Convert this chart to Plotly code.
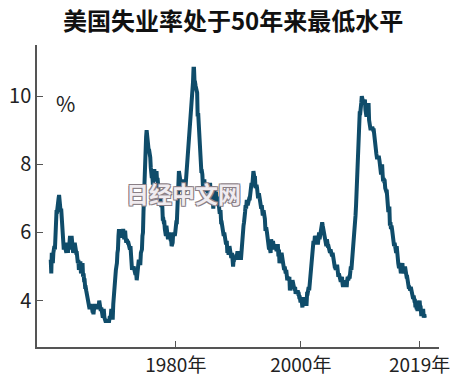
import plotly.graph_objects as go

# US unemployment rate, monthly (%), Jan 1960 onward
rate_1960s = [5.2,4.8,5.4,5.2,5.1,5.4,5.5,5.6,5.5,6.1,6.1,6.6,
              6.6,6.9,6.9,7.0,7.1,6.9,7.0,6.6,6.7,6.5,6.1,6.0,
              5.8,5.5,5.6,5.6,5.5,5.5,5.4,5.7,5.6,5.4,5.7,5.5,
              5.7,5.9,5.7,5.7,5.9,5.6,5.6,5.4,5.5,5.5,5.7,5.5,
              5.6,5.4,5.4,5.3,5.1,5.2,4.9,5.0,5.1,5.1,4.8,5.0,
              4.9,5.1,4.7,4.8,4.6,4.6,4.4,4.4,4.3,4.2,4.1,4.0,
              4.0,3.8,3.8,3.8,3.9,3.8,3.8,3.8,3.7,3.7,3.6,3.8,
              3.9,3.8,3.8,3.8,3.8,3.9,3.8,3.8,3.8,4.0,3.9,3.8,
              3.7,3.8,3.7,3.5,3.5,3.7,3.7,3.5,3.4,3.4,3.4,3.4,
              3.4,3.4,3.4,3.4,3.4,3.5,3.5,3.5,3.7,3.7,3.5,3.5]
rate_1970s = [3.9,4.2,4.4,4.6,4.8,4.9,5.0,5.1,5.4,5.5,5.9,6.1,
              5.9,5.9,6.0,5.9,5.9,5.9,6.0,6.1,6.0,5.8,6.0,6.0,
              5.8,5.7,5.8,5.7,5.7,5.7,5.6,5.6,5.5,5.6,5.3,5.2,
              4.9,5.0,4.9,5.0,4.9,4.9,4.8,4.8,4.8,4.6,4.8,4.9,
              5.1,5.2,5.1,5.1,5.1,5.4,5.5,5.5,5.9,6.0,6.6,7.2,
              8.1,8.1,8.6,8.8,9.0,8.8,8.6,8.4,8.4,8.4,8.3,8.2,
              7.9,7.7,7.6,7.7,7.4,7.6,7.8,7.8,7.6,7.7,7.8,7.8,
              7.5,7.6,7.4,7.2,7.0,7.2,6.9,7.0,6.8,6.8,6.8,6.4,
              6.4,6.3,6.3,6.1,6.0,5.9,6.2,5.9,6.0,5.8,5.9,6.0,
              5.9,5.9,5.8,5.8,5.6,5.7,5.7,6.0,5.9,6.0,5.9,6.0]
rate_1980s = [6.3,6.3,6.3,6.9,7.5,7.6,7.8,7.7,7.5,7.5,7.5,7.2,
              7.5,7.4,7.4,7.2,7.5,7.5,7.2,7.4,7.6,7.9,8.3,8.5,
              8.6,8.9,9.0,9.3,9.4,9.6,9.8,9.8,10.1,10.4,10.8,10.8,
              10.4,10.4,10.3,10.2,10.1,10.1,9.4,9.5,9.2,8.8,8.5,8.3,
              8.0,7.8,7.8,7.7,7.4,7.2,7.5,7.5,7.3,7.4,7.2,7.3,
              7.3,7.2,7.2,7.3,7.2,7.4,7.4,7.1,7.1,7.1,7.0,7.0,
              6.7,7.2,7.2,7.1,7.2,7.2,7.0,6.9,7.0,7.0,6.9,6.6,
              6.6,6.6,6.6,6.3,6.3,6.2,6.1,6.0,5.9,6.0,5.8,5.7,
              5.7,5.7,5.7,5.4,5.6,5.4,5.4,5.6,5.4,5.4,5.3,5.3,
              5.4,5.2,5.0,5.2,5.2,5.3,5.2,5.2,5.3,5.3,5.4,5.4]
rate_1990s = [5.4,5.3,5.2,5.4,5.4,5.2,5.5,5.7,5.9,5.9,6.2,6.3,
              6.4,6.6,6.8,6.7,6.9,6.9,6.8,6.9,6.9,7.0,7.0,7.3,
              7.3,7.4,7.4,7.4,7.6,7.8,7.7,7.6,7.6,7.3,7.4,7.4,
              7.3,7.1,7.0,7.1,7.1,7.0,6.9,6.8,6.7,6.8,6.6,6.5,
              6.6,6.6,6.5,6.4,6.1,6.1,6.1,6.0,5.9,5.8,5.6,5.5,
              5.6,5.4,5.4,5.8,5.6,5.6,5.7,5.7,5.6,5.5,5.6,5.6,
              5.6,5.5,5.5,5.6,5.6,5.3,5.5,5.1,5.2,5.2,5.4,5.4,
              5.3,5.2,5.2,5.1,4.9,5.0,4.9,4.8,4.9,4.7,4.6,4.7,
              4.6,4.6,4.7,4.3,4.4,4.5,4.5,4.5,4.6,4.5,4.4,4.4,
              4.3,4.4,4.2,4.3,4.2,4.3,4.3,4.2,4.2,4.1,4.1,4.0]
rate_2000s = [4.0,4.1,4.0,3.8,4.0,4.0,4.0,4.1,3.9,3.9,3.9,3.9,
              4.2,4.2,4.3,4.4,4.3,4.5,4.6,4.9,5.0,5.3,5.5,5.7,
              5.7,5.7,5.7,5.9,5.8,5.8,5.8,5.7,5.7,5.7,5.9,6.0,
              5.8,5.9,5.9,6.0,6.1,6.3,6.2,6.1,6.1,6.0,5.8,5.7,
              5.7,5.6,5.8,5.6,5.6,5.6,5.5,5.4,5.4,5.5,5.4,5.4,
              5.3,5.4,5.2,5.2,5.1,5.0,5.0,4.9,5.0,5.0,5.0,4.9,
              4.7,4.8,4.7,4.7,4.6,4.6,4.7,4.7,4.5,4.4,4.5,4.4,
              4.6,4.5,4.4,4.5,4.4,4.6,4.7,4.6,4.7,4.7,4.7,5.0,
              5.0,4.9,5.1,5.0,5.4,5.6,5.8,6.1,6.1,6.5,6.8,7.3,
              7.8,8.3,8.7,9.0,9.4,9.5,9.5,9.6,9.8,10.0,9.9,9.9]
rate_2010s = [9.8,9.8,9.9,9.9,9.6,9.4,9.4,9.5,9.5,9.4,9.8,9.3,
              9.1,9.0,9.0,9.1,9.0,9.1,9.0,9.0,9.0,8.8,8.6,8.5,
              8.3,8.3,8.2,8.2,8.2,8.2,8.2,8.1,7.8,7.8,7.7,7.9,
              8.0,7.7,7.5,7.6,7.5,7.5,7.3,7.2,7.2,7.2,6.9,6.7,
              6.6,6.7,6.7,6.2,6.3,6.1,6.2,6.1,5.9,5.7,5.8,5.6,
              5.7,5.5,5.4,5.4,5.6,5.3,5.2,5.1,5.0,5.0,5.1,5.0,
              4.8,4.9,5.0,5.1,4.8,4.9,4.8,4.9,5.0,4.9,4.7,4.7,
              4.7,4.6,4.4,4.4,4.4,4.3,4.3,4.4,4.3,4.2,4.2,4.1,
              4.1,4.1,4.0,4.0,3.8,4.0,3.8,3.8,3.7,3.8,3.8,3.9,
              4.0,3.8,3.8,3.6,3.6,3.7,3.7,3.7,3.5,3.6,3.5]

start_year = 1960
tick_years = [1980, 2000, 2019]
tick_labels = ["1980年", "2000年", "2019年"]
y_ticks = [4, 6, 8, 10]

rates = rate_1960s + rate_1970s + rate_1980s + rate_1990s + rate_2000s + rate_2010s
x = [start_year + i / 12 for i in range(len(rates))]

fig = go.Figure()
fig.add_trace(go.Scatter(
    x=x, y=rates, mode="lines",
    line=dict(color="#0f4c6a", width=4),
    hoverinfo="skip", showlegend=False,
))

axis_font = dict(family="Noto Sans CJK SC", size=19, color="#222222")

fig.update_layout(
    width=450, height=386,
    margin=dict(l=37, r=11, t=45, b=39),
    paper_bgcolor="white", plot_bgcolor="white",
    title=dict(
        text="<b>美国失业率处于50年来最低水平</b>",
        x=0.518, xanchor="center", y=1 - 22 / 386, yanchor="middle",
        font=dict(family="Noto Sans CJK SC", size=24, color="#111111"),
    ),
    xaxis=dict(
        range=[1957.8, 2022.1],
        tickvals=tick_years, ticktext=tick_labels,
        ticks="inside", ticklen=6, tickcolor="#555555", tickwidth=1,
        showline=True, linecolor="#555555", linewidth=1.5,
        showgrid=False, zeroline=False, automargin=False,
        ticklabeloverflow="allow",
        tickfont=axis_font,
    ),
    yaxis=dict(
        range=[2.64, 11.5],
        tickvals=y_ticks,
        ticks="inside", ticklen=6, tickcolor="#555555", tickwidth=1,
        showline=True, linecolor="#555555", linewidth=1.5,
        showgrid=False, zeroline=False, automargin=False,
        ticklabeloverflow="allow",
        tickfont=dict(family="Noto Sans CJK SC", size=20, color="#222222"),
    ),
)

fig.add_annotation(
    x=1962.3, y=9.8, xref="x", yref="y", text="%", showarrow=False,
    font=dict(family="Noto Sans CJK SC", size=21, color="#222222"),
)

fig.add_annotation(
    x=(183 - 37) / 402, y=(347 - 193) / 302, xref="paper", yref="paper",
    text="<b>日经中文网</b>", showarrow=False,
    font=dict(family="Noto Sans CJK SC", size=23, color="#f0ecf0",
              shadow="1px 1px 0 #8a7f86, -1px -1px 0 #8a7f86, 1px -1px 0 #8a7f86, -1px 1px 0 #8a7f86"),
)

fig.write_html("out.html", config={"displayModeBar": False},
               post_script="document.body.style.margin='0';")
